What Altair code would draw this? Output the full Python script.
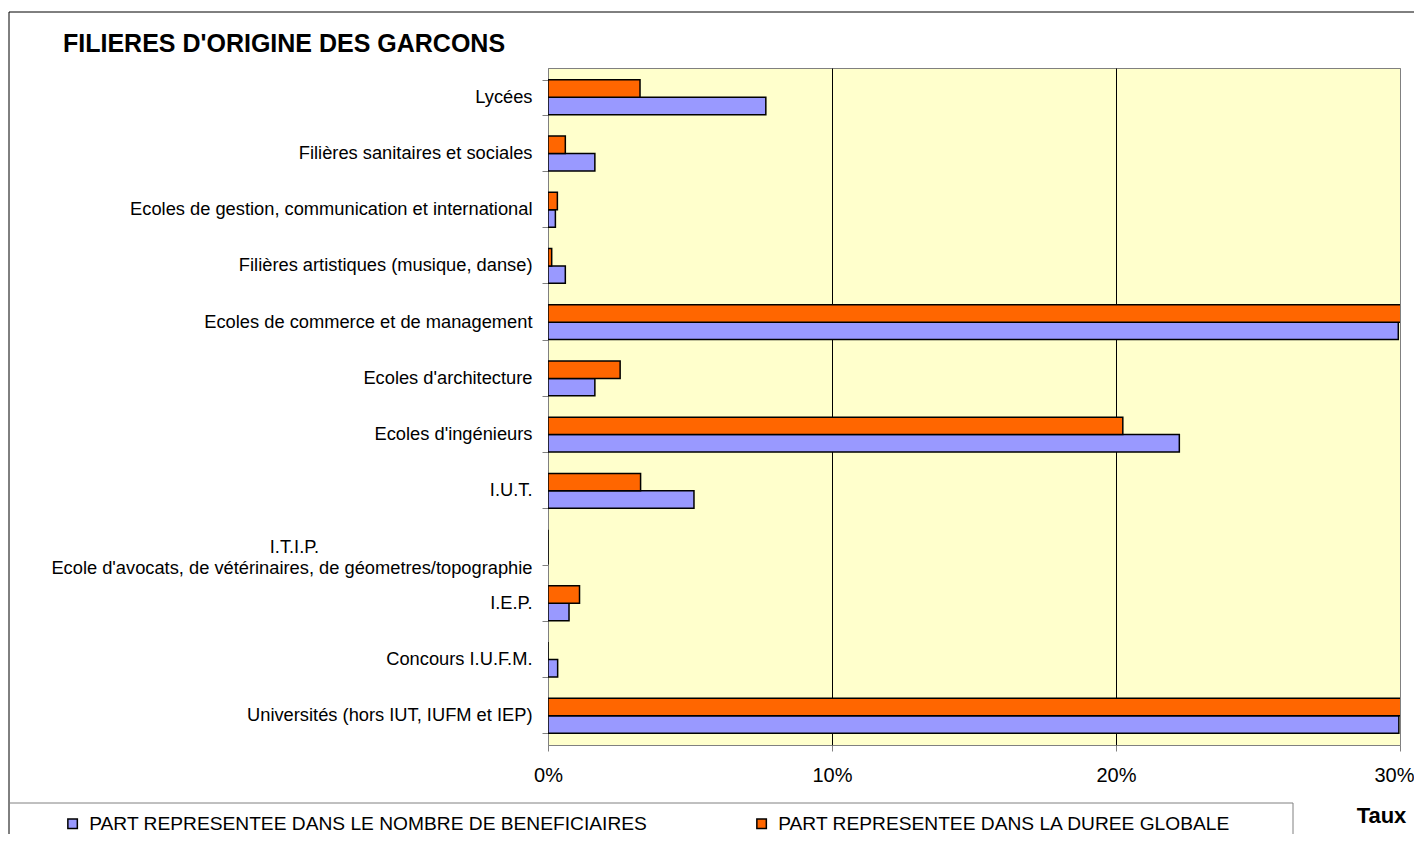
import altair as alt
import pandas as pd

categories = [
    "Lycées",
    "Filières sanitaires et sociales",
    "Ecoles de gestion, communication et international",
    "Filières artistiques (musique, danse)",
    "Ecoles de commerce et de management",
    "Ecoles d'architecture",
    "Ecoles d'ingénieurs",
    "I.U.T.",
    "I.T.I.P.|Ecole d'avocats, de vétérinaires, de géometres/topographie",
    "I.E.P.",
    "Concours I.U.F.M.",
    "Universités (hors IUT, IUFM et IEP)",
]
series = [
    "PART REPRESENTEE DANS LE NOMBRE DE BENEFICIAIRES",
    "PART REPRESENTEE DANS LA DUREE GLOBALE",
]
beneficiaires = [0.0767, 0.0165, 0.0026, 0.0061, 0.2994, 0.0165, 0.2223, 0.0514, 0.0, 0.0074, 0.0034, 0.2996]
duree = [0.0324, 0.0061, 0.0033, 0.0013, 0.3100, 0.0254, 0.2024, 0.0326, 0.0, 0.0111, 0.0, 0.3100]
colors = ["#9999FF", "#FF6600"]
x_ticks = [0, 0.1, 0.2, 0.3]
title_text = "FILIERES D'ORIGINE DES GARCONS"

rows = []
for c, b, d in zip(categories, beneficiaires, duree):
    rows.append({"cat": c, "serie": series[0], "val": b})
    rows.append({"cat": c, "serie": series[1], "val": d})
df = pd.DataFrame(rows)

FONT = "Liberation Sans"
pad = "\u00a0" * 42 + "\u200b"
label_expr = ("indexof(datum.label, '|') >= 0 ? split(replace(datum.label, 'I.T.I.P.|', 'I.T.I.P." + pad
              + "|'), '|') : datum.label")

bars = alt.Chart(df).mark_bar(stroke="black", strokeWidth=1.5, clip=True).encode(
    x=alt.X("val:Q",
            scale=alt.Scale(domain=[0, 0.3], nice=False, zero=True),
            axis=alt.Axis(values=x_ticks, format=".0%", title="Taux",
                          titleX=833, titleY=70, titleAlign="center", titleBaseline="middle",
                          titleFont=FONT, titleFontSize=22, titleFontWeight="bold", titleColor="black",
                          labelFont=FONT, labelFontSize=20, labelColor="black", labelPadding=14,
                          labelFlush=False,
                          labelAlign={"condition": {"test": "datum.value >= 0.3", "value": "right"},
                                      "value": "center"},
                          labelOffset={"condition": {"test": "datum.value >= 0.3", "value": 14},
                                       "value": 0},
                          tickSize=6, tickColor="#808080", domain=False,
                          grid=True,
                          gridColor={"condition": {"test": "datum.value > 0 && datum.value < 0.3", "value": "black"},
                                     "value": "#808080"},
                          gridWidth=1)),
    y=alt.Y("cat:N", sort=categories,
            scale=alt.Scale(paddingInner=0.38, paddingOuter=0.21),
            axis=alt.Axis(title=None, labelExpr=label_expr, labelFont=FONT, labelFontSize=18.3,
                          labelColor="black", labelLimit=600, labelPadding=10, labelLineHeight=21,
                          tickSize=6, tickColor="#808080", tickBand="extent",
                          domainColor="#808080")),
    yOffset=alt.YOffset("serie:N", sort=[series[1], series[0]], scale=alt.Scale(paddingInner=0, paddingOuter=0)),
    color=alt.Color("serie:N", scale=alt.Scale(domain=series, range=colors),
                    legend=alt.Legend(title=None, orient="none", direction="horizontal",
                                      legendX=-485, legendY=746, labelFont=FONT, labelFontSize=19.2,
                                      labelColor="black", labelLimit=900, symbolType="square",
                                      symbolSize=90, symbolStrokeColor="black", symbolStrokeWidth=1.5,
                                      columnPadding=104, labelOffset=7, padding=0)),
)

title = alt.Chart(pd.DataFrame({"a": [0]})).mark_text(
    align="left", baseline="alphabetic", font=FONT, fontSize=25, fontWeight="bold", color="black"
).encode(x=alt.value(-485), y=alt.value(-16), text=alt.value(title_text))

outer = alt.Chart(pd.DataFrame({"a": [0]})).mark_rect(fillOpacity=0, stroke="black", strokeWidth=1).encode(
    x=alt.value(-539), x2=alt.value(2000), y=alt.value(-56), y2=alt.value(2000))

legend_box = alt.Chart(pd.DataFrame({"a": [0]})).mark_rect(fillOpacity=0, stroke="#808080", strokeWidth=1).encode(
    x=alt.value(-539), x2=alt.value(745), y=alt.value(735), y2=alt.value(772))

chart = alt.layer(outer, legend_box, title, bars).properties(
    width=852, height=677,
    background="white",
    autosize=alt.AutoSizeParams(type="none"),
    padding={"left": 540, "top": 60, "right": 14, "bottom": 89},
).configure_view(fill="#FFFFCC", stroke="#808080", strokeWidth=1)

chart.save("out.html", embed_options={"renderer": "svg", "actions": False})
